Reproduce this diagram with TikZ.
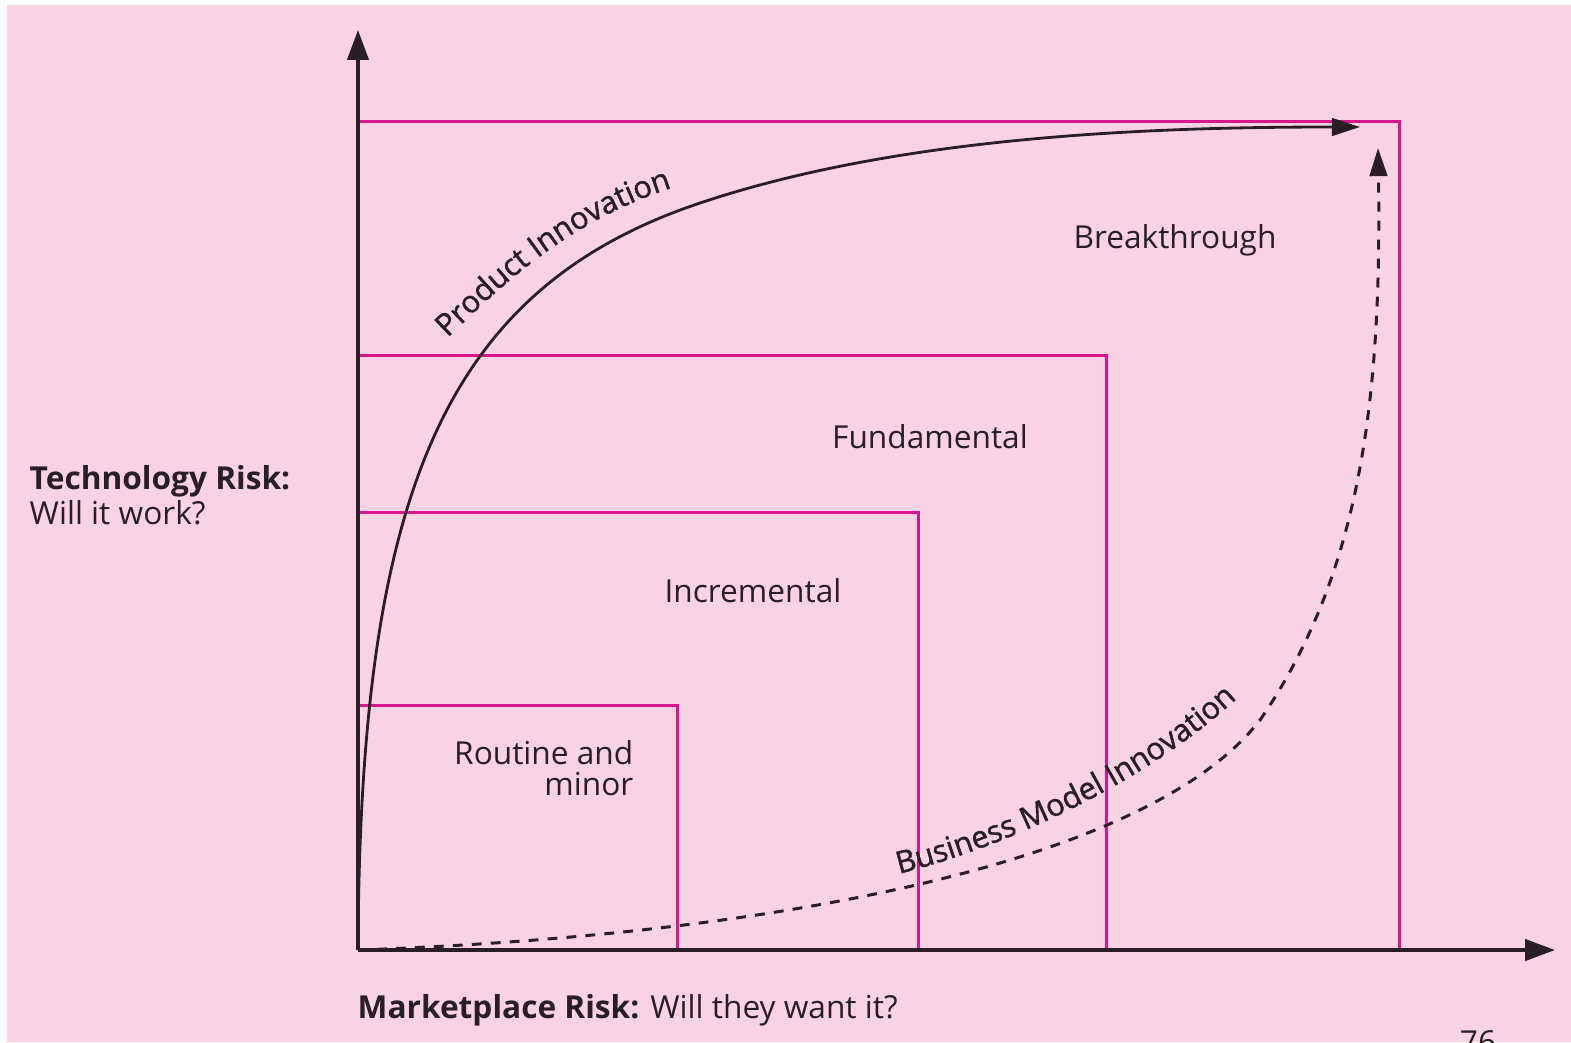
\documentclass[tikz,border=0pt]{standalone}
\usepackage{fontspec}
\setmainfont{Open Sans}
\newfontfamily\semifont[FakeBold=1.4]{Open Sans}
\usetikzlibrary{arrows.meta,decorations.text}
\definecolor{bgpink}{RGB}{249,211,228}
\definecolor{mag}{RGB}{214,24,140}
\definecolor{ink}{RGB}{40,30,36}
\newcommand\labfont{\fontsize{9}{8.9}\selectfont}
\newcommand\curvefont{\semifont\fontsize{8.7}{9}\selectfont}
\tikzset{
  axis/.style={line width=1.1pt, draw=ink, -{Triangle[length=8.5pt,width=6pt]}},
  zone/.style={line width=0.85pt, draw=mag},
  curveline/.style={line width=0.8pt, draw=ink, -{Triangle[length=8pt,width=5pt]}},
  lab/.style={text=ink, font=\labfont, inner sep=0pt},
}
\begin{document}
\begin{tikzpicture}[x=0.01cm,y=-0.01cm]
\useasboundingbox (0,0) rectangle (1571,1042);
\fill[white] (0,0) rectangle (1571,1042);
\fill[bgpink] (7,5) rectangle (1571,1042);
\coordinate (O) at (358,950);
\coordinate (ytip) at (358,30);
\coordinate (xtip) at (1555,950);
% zones
\draw[zone] (358,705) -| (677,950);
\draw[zone] (358,512) -| (918,950);
\draw[zone] (358,355) -| (1106,950);
\draw[zone] (358,121) -| (1399,950);
% axes
\draw[axis] (O) -- (ytip);
\draw[axis] (O) -- (xtip);
% product innovation
\coordinate (pmid) at (700,203);
\coordinate (pend) at (1360,127);
\draw[curveline] (O) .. controls (360,500) and (440,290) .. (pmid)
  .. controls (900,136) and (1150,127) .. (pend);
% business model innovation
\coordinate (bmid) at (1260,720);
\coordinate (bend) at (1378,148);
\draw[curveline, line width=0.85pt, dash pattern=on 2.8pt off 2.6pt] (O) .. controls (780,935) and (1150,862) .. (bmid)
  .. controls (1360,575) and (1382,400) .. (bend);
% curve labels
\path[decorate, decoration={text along path, text align=center,
  text={|\curvefont\color{ink}|Product Innovation}}]
  (443,342) .. controls (490,298) and (560,222) .. (678,186);
\path[decorate, decoration={text along path, text align=center,
  text={|\curvefont\color{ink}|Business Model Innovation}}]
  (890,876) .. controls (1000,850) and (1150,782) .. (1244,692);
% zone labels
\node[lab] (brk) at (1175,240) {Breakthrough};
\node[lab] (fun) at (930,437) {Fundamental};
\node[lab] (inc) at (753,591) {Incremental};
\node[lab, anchor=east, align=right] (rou) at (634,768) {Routine and\\minor};
% axis labels
\node[lab, anchor=west, align=left] (tech) at (29,495) {\textbf{Technology Risk:}\\Will it work?};
\node[lab, anchor=west] (mkt) at (357,1010) {\textbf{Marketplace Risk:} Will they want it?};
\node[lab, anchor=north] (pg) at (1478,1030) {76};
\end{tikzpicture}
\end{document}
